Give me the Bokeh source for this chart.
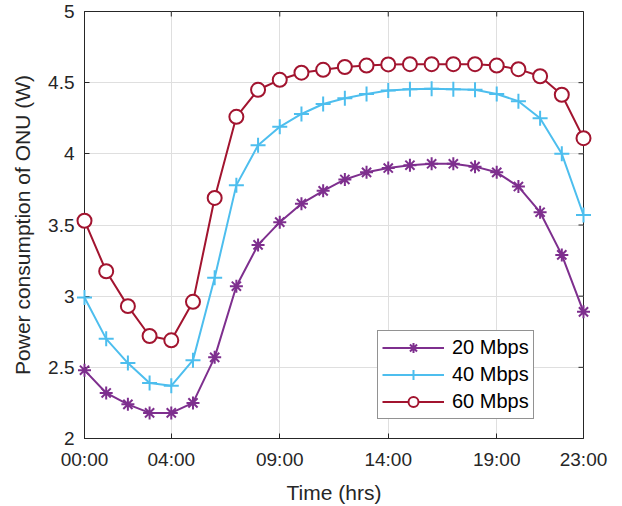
import math
from bokeh.plotting import figure
from bokeh.models import FixedTicker, Legend, LegendItem, Range1d
from bokeh.embed import file_html
from bokeh.resources import INLINE

hours = list(range(24))
p20 = [2.48, 2.32, 2.24, 2.18, 2.18, 2.25, 2.57, 3.07, 3.36, 3.52, 3.65, 3.74,
       3.82, 3.87, 3.90, 3.92, 3.93, 3.93, 3.91, 3.87, 3.77, 3.59, 3.29, 2.89]
p40 = [2.99, 2.70, 2.53, 2.39, 2.37, 2.55, 3.13, 3.78, 4.06, 4.19, 4.28, 4.35,
       4.39, 4.42, 4.445, 4.454, 4.457, 4.454, 4.45, 4.42, 4.37, 4.25, 4.00, 3.57]
p60 = [3.53, 3.175, 2.93, 2.72, 2.69, 2.96, 3.69, 4.26, 4.45, 4.52, 4.57, 4.59,
       4.61, 4.62, 4.628, 4.63, 4.63, 4.63, 4.63, 4.62, 4.595, 4.545, 4.415, 4.11]
series_labels = ["20 Mbps", "40 Mbps", "60 Mbps"]
x_ticks = [0, 4, 9, 14, 19, 23]
x_tick_labels = ["00:00", "04:00", "09:00", "14:00", "19:00", "23:00"]
y_ticks = [2, 2.5, 3, 3.5, 4, 4.5, 5]
y_tick_labels = ["2", "2.5", "3", "3.5", "4", "4.5", "5"]
x_min, x_max = 0, 23
y_min, y_max = 2, 5

FONT = "Liberation Sans"
AX = "#262626"

p = figure(width=622, height=506, output_backend="svg", toolbar_location=None,
           x_range=Range1d(x_min, x_max), y_range=Range1d(y_min, y_max),
           min_border_left=84, min_border_right=39, min_border_top=11, min_border_bottom=68)
p.background_fill_color = "white"
p.border_fill_color = "white"
p.outline_line_color = AX
p.outline_line_width = 1

for ax in (p.xaxis[0], p.yaxis[0]):
    ax.axis_line_color = AX
    ax.major_tick_line_color = AX
    ax.major_tick_in = 5
    ax.major_tick_out = 0
    ax.minor_tick_line_color = None
    ax.major_label_text_font = FONT
    ax.major_label_text_font_size = "19px"
    ax.major_label_text_color = AX
    ax.axis_label_text_font = FONT
    ax.axis_label_text_font_size = "21px"
    ax.axis_label_text_font_style = "normal"
    ax.axis_label_text_color = AX

p.xaxis.ticker = FixedTicker(ticks=x_ticks)
p.xaxis.major_label_overrides = dict(zip(x_ticks, x_tick_labels))
p.xaxis.axis_label = "Time (hrs)"
p.xaxis.major_label_standoff = 10
p.xaxis.axis_label_standoff = 8
p.yaxis.ticker = FixedTicker(ticks=y_ticks)
p.yaxis.major_label_overrides = dict(zip(y_ticks, y_tick_labels))
p.yaxis.axis_label = "Power consumption of ONU (W)"
p.yaxis.major_label_standoff = 10
p.yaxis.axis_label_standoff = 11

p.xgrid.ticker = FixedTicker(ticks=x_ticks)
p.ygrid.ticker = FixedTicker(ticks=y_ticks)
for g in (p.xgrid[0], p.ygrid[0]):
    g.grid_line_color = "#dfdfdf"
    g.grid_line_width = 1

# box ticks on top and right edges (half of each dash is clipped by the frame)
p.scatter(x_ticks, [y_max] * len(x_ticks), marker="dash", size=10, angle=math.pi / 2,
          line_color=AX, line_width=1)
p.scatter([x_max] * len(y_ticks), y_ticks, marker="dash", size=10,
          line_color=AX, line_width=1)

c20, c40, c60 = "#7E2F8E", "#4DBEEE", "#A2142F"

l20 = p.line(hours, p20, line_color=c20, line_width=2, level="overlay")
m20 = p.scatter(hours, p20, marker="asterisk", size=13, line_color=c20, line_width=2,
                level="overlay")
l40 = p.line(hours, p40, line_color=c40, line_width=2, level="overlay")
m40 = p.scatter(hours, p40, marker="cross", size=15, line_color=c40, line_width=2,
                level="overlay")
l60 = p.line(hours, p60, line_color=c60, line_width=2, level="overlay")
m60 = p.scatter(hours, p60, marker="circle", size=14, line_color=c60, line_width=2,
                fill_color="white", level="overlay")

legend = Legend(items=[
    LegendItem(label=series_labels[0], renderers=[l20, m20]),
    LegendItem(label=series_labels[1], renderers=[l40, m40]),
    LegendItem(label=series_labels[2], renderers=[l60, m60]),
], location=(293, 19))
legend.label_text_font = FONT
legend.label_text_font_size = "20px"
legend.label_text_color = "black"
legend.glyph_width = 62
legend.glyph_height = 25
legend.label_height = 25
legend.spacing = 2
legend.padding = 4
legend.margin = 0
legend.label_standoff = 8
legend.border_line_color = AX
legend.border_line_width = 1
legend.background_fill_color = "white"
legend.background_fill_alpha = 1
p.add_layout(legend)

open("out.html", "w").write(file_html(p, INLINE))
